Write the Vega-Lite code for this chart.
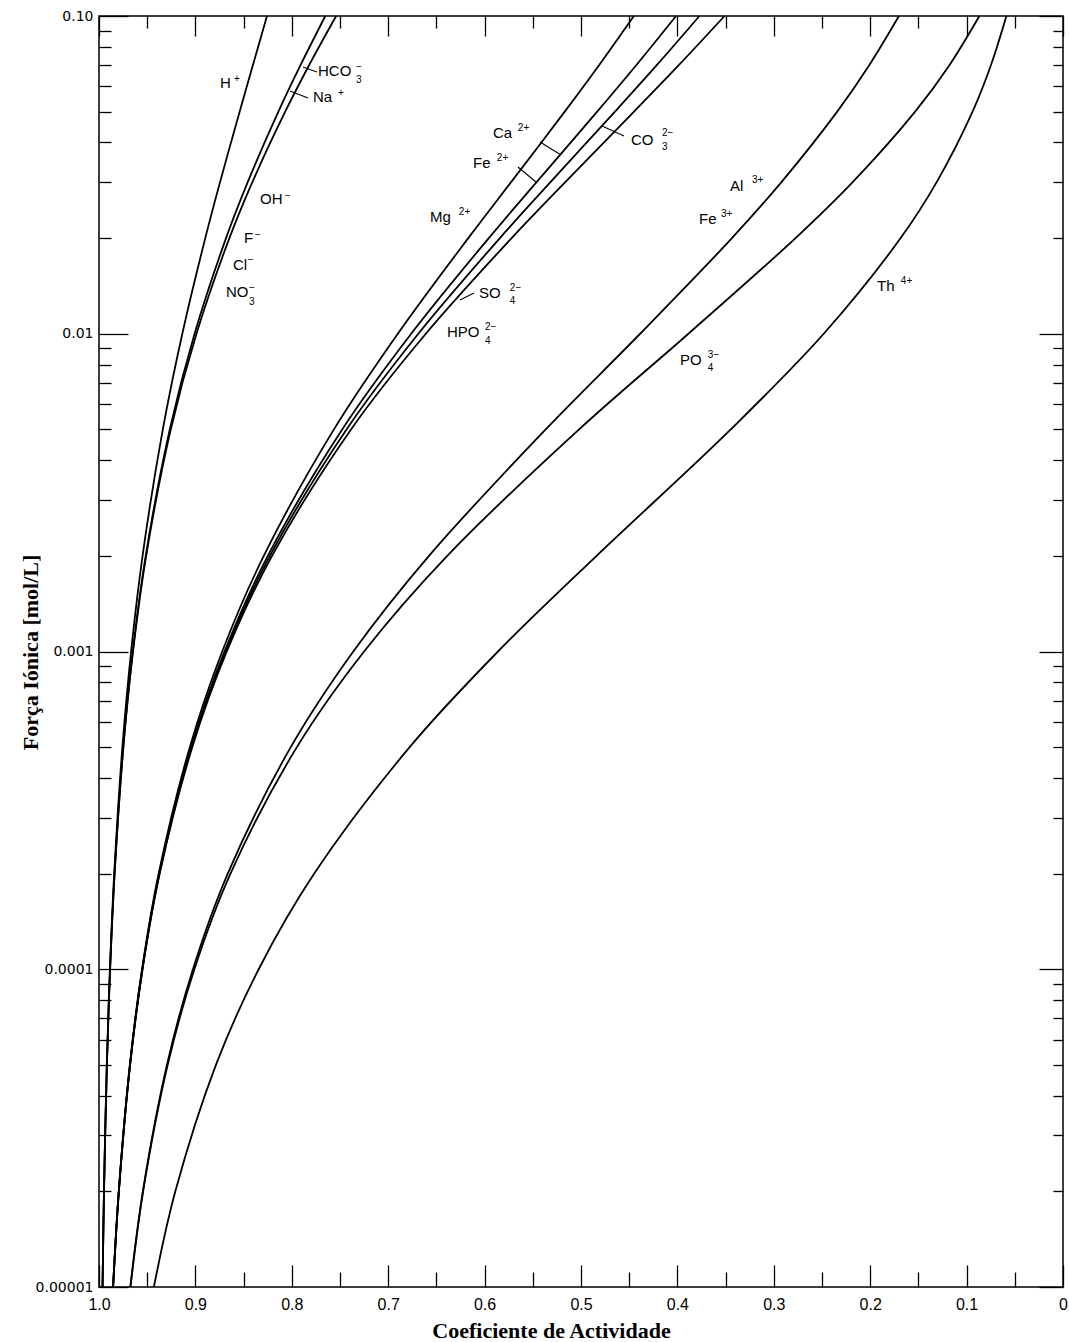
{
  "$schema": "https://vega.github.io/schema/vega-lite/v6.json",
  "width": 964,
  "height": 1271,
  "autosize": {"type": "none"},
  "padding": {"left": 99, "top": 16, "right": 6, "bottom": 55},
  "background": "white",
  "config": {
    "view": {"stroke": "black", "strokeWidth": 1.5},
    "axis": {"domain": false, "grid": false, "tickColor": "black", "tickWidth": 1.3, "labelColor": "black", "titleColor": "black", "labelFlush": false, "labelOverlap": false}
  },
  "datasets": {
    "curves": [
      {"c":"H","I":0.00001,"g":0.99634},{"c":"H","I":0.00002,"g":0.99485},{"c":"H","I":0.00005,"g":0.99192},{"c":"H","I":0.0001,"g":0.98869},{"c":"H","I":0.0002,"g":0.98423},{"c":"H","I":0.0005,"g":0.97574},{"c":"H","I":0.001,"g":0.96670},{"c":"H","I":0.002,"g":0.95480},{"c":"H","I":0.005,"g":0.93380},{"c":"H","I":0.01,"g":0.91357},{"c":"H","I":0.02,"g":0.88976},{"c":"H","I":0.03,"g":0.87444},{"c":"H","I":0.05,"g":0.85411},{"c":"H","I":0.07,"g":0.84037},{"c":"H","I":0.1,"g":0.82574},
      {"c":"Na","I":0.00001,"g":0.99632},{"c":"Na","I":0.00002,"g":0.99481},{"c":"Na","I":0.00005,"g":0.99182},{"c":"Na","I":0.0001,"g":0.98850},{"c":"Na","I":0.0002,"g":0.98385},{"c":"Na","I":0.0005,"g":0.97483},{"c":"Na","I":0.001,"g":0.96497},{"c":"Na","I":0.002,"g":0.95155},{"c":"Na","I":0.005,"g":0.92659},{"c":"Na","I":0.01,"g":0.90086},{"c":"Na","I":0.02,"g":0.86821},{"c":"Na","I":0.03,"g":0.84572},{"c":"Na","I":0.05,"g":0.81390},{"c":"Na","I":0.07,"g":0.79099},{"c":"Na","I":0.1,"g":0.76524},
      {"c":"Cl","I":0.00001,"g":0.99632},{"c":"Cl","I":0.00002,"g":0.99480},{"c":"Cl","I":0.00005,"g":0.99181},{"c":"Cl","I":0.0001,"g":0.98847},{"c":"Cl","I":0.0002,"g":0.98380},{"c":"Cl","I":0.0005,"g":0.97471},{"c":"Cl","I":0.001,"g":0.96473},{"c":"Cl","I":0.002,"g":0.95108},{"c":"Cl","I":0.005,"g":0.92552},{"c":"Cl","I":0.01,"g":0.89889},{"c":"Cl","I":0.02,"g":0.86472},{"c":"Cl","I":0.03,"g":0.84092},{"c":"Cl","I":0.05,"g":0.80686},{"c":"Cl","I":0.07,"g":0.78210},{"c":"Cl","I":0.1,"g":0.75399},
      {"c":"Mg","I":0.00001,"g":0.98542},{"c":"Mg","I":0.00002,"g":0.97951},{"c":"Mg","I":0.00005,"g":0.96801},{"c":"Mg","I":0.0001,"g":0.95539},{"c":"Mg","I":0.0002,"g":0.93813},{"c":"Mg","I":0.0005,"g":0.90581},{"c":"Mg","I":0.001,"g":0.87219},{"c":"Mg","I":0.002,"g":0.82907},{"c":"Mg","I":0.005,"g":0.75630},{"c":"Mg","I":0.01,"g":0.69004},{"c":"Mg","I":0.02,"g":0.61693},{"c":"Mg","I":0.03,"g":0.57254},{"c":"Mg","I":0.05,"g":0.51686},{"c":"Mg","I":0.07,"g":0.48129},{"c":"Mg","I":0.1,"g":0.44516},
      {"c":"Ca","I":0.00001,"g":0.98539},{"c":"Ca","I":0.00002,"g":0.97945},{"c":"Ca","I":0.00005,"g":0.96786},{"c":"Ca","I":0.0001,"g":0.95511},{"c":"Ca","I":0.0002,"g":0.93759},{"c":"Ca","I":0.0005,"g":0.90455},{"c":"Ca","I":0.001,"g":0.86986},{"c":"Ca","I":0.002,"g":0.82489},{"c":"Ca","I":0.005,"g":0.74773},{"c":"Ca","I":0.01,"g":0.67617},{"c":"Ca","I":0.02,"g":0.59566},{"c":"Ca","I":0.03,"g":0.54611},{"c":"Ca","I":0.05,"g":0.48325},{"c":"Ca","I":0.07,"g":0.44274},{"c":"Ca","I":0.1,"g":0.40139},
      {"c":"CO3","I":0.00001,"g":0.98537},{"c":"CO3","I":0.00002,"g":0.97942},{"c":"CO3","I":0.00005,"g":0.96779},{"c":"CO3","I":0.0001,"g":0.95497},{"c":"CO3","I":0.0002,"g":0.93732},{"c":"CO3","I":0.0005,"g":0.90391},{"c":"CO3","I":0.001,"g":0.86866},{"c":"CO3","I":0.002,"g":0.82272},{"c":"CO3","I":0.005,"g":0.74322},{"c":"CO3","I":0.01,"g":0.66876},{"c":"CO3","I":0.02,"g":0.58414},{"c":"CO3","I":0.03,"g":0.53168},{"c":"CO3","I":0.05,"g":0.46476},{"c":"CO3","I":0.07,"g":0.42144},{"c":"CO3","I":0.1,"g":0.37714},
      {"c":"SO4","I":0.00001,"g":0.98536},{"c":"SO4","I":0.00002,"g":0.97939},{"c":"SO4","I":0.00005,"g":0.96772},{"c":"SO4","I":0.0001,"g":0.95483},{"c":"SO4","I":0.0002,"g":0.93704},{"c":"SO4","I":0.0005,"g":0.90326},{"c":"SO4","I":0.001,"g":0.86745},{"c":"SO4","I":0.002,"g":0.82050},{"c":"SO4","I":0.005,"g":0.73856},{"c":"SO4","I":0.01,"g":0.66099},{"c":"SO4","I":0.02,"g":0.57198},{"c":"SO4","I":0.03,"g":0.51636},{"c":"SO4","I":0.05,"g":0.44500},{"c":"SO4","I":0.07,"g":0.39861},{"c":"SO4","I":0.1,"g":0.35111},
      {"c":"Al","I":0.00001,"g":0.96751},{"c":"Al","I":0.00002,"g":0.95452},{"c":"Al","I":0.00005,"g":0.92953},{"c":"Al","I":0.0001,"g":0.90256},{"c":"Al","I":0.0002,"g":0.86643},{"c":"Al","I":0.0005,"g":0.80107},{"c":"Al","I":0.001,"g":0.73622},{"c":"Al","I":0.002,"g":0.65770},{"c":"Al","I":0.005,"g":0.53666},{"c":"Al","I":0.01,"g":0.43867},{"c":"Al","I":0.02,"g":0.34344},{"c":"Al","I":0.03,"g":0.29209},{"c":"Al","I":0.05,"g":0.23424},{"c":"Al","I":0.07,"g":0.20103},{"c":"Al","I":0.1,"g":0.17020},
      {"c":"PO4","I":0.00001,"g":0.96734},{"c":"PO4","I":0.00002,"g":0.95420},{"c":"PO4","I":0.00005,"g":0.92875},{"c":"PO4","I":0.0001,"g":0.90106},{"c":"PO4","I":0.0002,"g":0.86360},{"c":"PO4","I":0.0005,"g":0.79474},{"c":"PO4","I":0.001,"g":0.72502},{"c":"PO4","I":0.002,"g":0.63875},{"c":"PO4","I":0.005,"g":0.50199},{"c":"PO4","I":0.01,"g":0.38859},{"c":"PO4","I":0.02,"g":0.27745},{"c":"PO4","I":0.03,"g":0.21819},{"c":"PO4","I":0.05,"g":0.15336},{"c":"PO4","I":0.07,"g":0.11785},{"c":"PO4","I":0.1,"g":0.08675},
      {"c":"Th","I":0.00001,"g":0.94308},{"c":"Th","I":0.00002,"g":0.92080},{"c":"Th","I":0.00005,"g":0.87869},{"c":"Th","I":0.0001,"g":0.83435},{"c":"Th","I":0.0002,"g":0.77676},{"c":"Th","I":0.0005,"g":0.67776},{"c":"Th","I":0.001,"g":0.58613},{"c":"Th","I":0.002,"g":0.48385},{"c":"Th","I":0.005,"g":0.34466},{"c":"Th","I":0.01,"g":0.24823},{"c":"Th","I":0.02,"g":0.16840},{"c":"Th","I":0.03,"g":0.13105},{"c":"Th","I":0.05,"g":0.09383},{"c":"Th","I":0.07,"g":0.07479},{"c":"Th","I":0.1,"g":0.05871}
    ],
    "labels": [
      {"t":"H","k":"b","g":0.8745,"I":0.06154},{"t":"+","k":"s","g":0.8600,"I":0.06333},
      {"t":"HCO","k":"b","g":0.7728,"I":0.06713},{"t":"3","k":"s","g":0.7335,"I":0.06290},{"t":"−","k":"s","g":0.7335,"I":0.06911},
      {"t":"Na","k":"b","g":0.7780,"I":0.05561},{"t":"+","k":"s","g":0.7522,"I":0.05725},
      {"t":"OH","k":"b","g":0.8330,"I":0.02655},{"t":"−","k":"s","g":0.8072,"I":0.02713},
      {"t":"F","k":"b","g":0.8496,"I":0.02001},{"t":"−","k":"s","g":0.8383,"I":0.02045},
      {"t":"Cl","k":"b","g":0.8610,"I":0.01646},{"t":"−","k":"s","g":0.8456,"I":0.01707},
      {"t":"NO","k":"b","g":0.8683,"I":0.01353},{"t":"3","k":"s","g":0.8445,"I":0.01259},{"t":"−","k":"s","g":0.8445,"I":0.01393},
      {"t":"Mg","k":"b","g":0.6566,"I":0.02331},{"t":"2+","k":"s","g":0.6267,"I":0.02416},
      {"t":"Ca","k":"b","g":0.5913,"I":0.04283},{"t":"2+","k":"s","g":0.5655,"I":0.04441},
      {"t":"Fe","k":"b","g":0.6120,"I":0.03447},{"t":"2+","k":"s","g":0.5873,"I":0.03573},
      {"t":"CO","k":"b","g":0.4481,"I":0.04073},{"t":"2−","k":"s","g":0.4161,"I":0.04283},{"t":"3","k":"s","g":0.4161,"I":0.03871},
      {"t":"Al","k":"b","g":0.3454,"I":0.02917},{"t":"3+","k":"s","g":0.3227,"I":0.03048},
      {"t":"Fe","k":"b","g":0.3776,"I":0.02297},{"t":"3+","k":"s","g":0.3549,"I":0.02381},
      {"t":"Th","k":"b","g":0.1929,"I":0.01414},{"t":"4+","k":"s","g":0.1682,"I":0.01466},
      {"t":"SO","k":"b","g":0.6058,"I":0.01343},{"t":"2−","k":"s","g":0.5738,"I":0.01393},{"t":"4","k":"s","g":0.5738,"I":0.01268},
      {"t":"HPO","k":"b","g":0.6390,"I":0.01013},{"t":"2−","k":"s","g":0.5997,"I":0.01050},{"t":"4","k":"s","g":0.5997,"I":0.009489},
      {"t":"PO","k":"b","g":0.3973,"I":0.008267},{"t":"3−","k":"s","g":0.3684,"I":0.008573},{"t":"4","k":"s","g":0.3684,"I":0.007803}
    ],
    "leaders": [
      {"g":0.7884,"I":0.06911,"g2":0.7739,"I2":0.06665},
      {"g":0.8019,"I":0.05808,"g2":0.7832,"I2":0.05520},
      {"g":0.5425,"I":0.04014,"g2":0.5207,"I2":0.03652},
      {"g":0.5654,"I":0.03348,"g2":0.5467,"I2":0.03003},
      {"g":0.4782,"I":0.04506,"g2":0.4554,"I2":0.04192},
      {"g":0.6255,"I":0.01277,"g2":0.6110,"I2":0.01343}
    ]
  },
  "layer": [
    {
      "data": {"name": "curves"},
      "mark": {"type": "line", "color": "black", "strokeWidth": 1.8, "interpolate": "catmull-rom"},
      "encoding": {
        "x": {"field": "g", "type": "quantitative", "scale": {"domain": [0, 1], "reverse": true, "nice": false, "zero": false},
          "axis": {"orient": "bottom", "values": [0,0.1,0.2,0.3,0.4,0.5,0.6,0.7,0.8,0.9,1], "tickSize": -22, "labelPadding": 31,
            "labelExpr": "datum.value < 0.01 ? '0' : format(datum.value, '.1f')", "labelFont": "Liberation Sans", "labelFontSize": 16,
            "title": "Coeficiente de Actividade", "titleFont": "Liberation Serif", "titleFontSize": 22, "titleFontWeight": "bold",
            "titleX": 452, "titleY": 43, "titleBaseline": "middle", "titleAlign": "center"}},
        "y": {"field": "I", "type": "quantitative", "scale": {"type": "log", "domain": [0.00001, 0.1], "nice": false},
          "axis": {"orient": "left", "values": [0.00001,0.0001,0.001,0.01,0.1], "tickSize": -29, "labelPadding": 35,
            "labelExpr": "datum.value > 0.05 ? '0.10' : datum.value > 0.005 ? '0.01' : datum.value > 0.0005 ? '0.001' : datum.value > 0.00005 ? '0.0001' : '0.00001'",
            "labelFont": "DejaVu Sans", "labelFontSize": 14,
            "title": "Força Iónica [mol/L]", "titleFont": "Liberation Serif", "titleFontSize": 22, "titleFontWeight": "bold",
            "titleX": -69, "titleY": 636, "titleAngle": -90, "titleBaseline": "middle", "titleAlign": "center"}},
        "detail": {"field": "c", "type": "nominal"},
        "order": {"field": "I", "type": "quantitative"}
      }
    },
    {
      "data": {"name": "leaders"},
      "mark": {"type": "rule", "color": "black", "strokeWidth": 1.1},
      "encoding": {
        "x": {"field": "g", "type": "quantitative",
          "axis": {"orient": "bottom", "values": [0.05,0.15,0.25,0.35,0.45,0.55,0.65,0.75,0.85,0.95], "tickSize": -15, "labels": false, "title": null}},
        "x2": {"field": "g2"},
        "y": {"field": "I", "type": "quantitative",
          "axis": {"orient": "left", "values": [0.00002,0.00003,0.00004,0.00005,0.00006,0.00007,0.00008,0.00009,0.0002,0.0003,0.0004,0.0005,0.0006,0.0007,0.0008,0.0009,0.002,0.003,0.004,0.005,0.006,0.007,0.008,0.009,0.02,0.03,0.04,0.05,0.06,0.07,0.08,0.09], "tickSize": -12, "labels": false, "title": null}},
        "y2": {"field": "I2"}
      }
    },
    {
      "data": {"name": "labels"},
      "transform": [{"filter": "datum.k == 'b'"}],
      "mark": {"type": "text", "align": "left", "baseline": "middle", "font": "Liberation Sans", "fontSize": 15, "color": "black"},
      "encoding": {
        "x": {"field": "g", "type": "quantitative",
          "axis": {"orient": "top", "values": [0,0.1,0.2,0.3,0.4,0.5,0.6,0.7,0.8,0.9,1], "tickSize": -20, "labels": false, "title": null}},
        "y": {"field": "I", "type": "quantitative",
          "axis": {"orient": "right", "values": [0.00001,0.0001,0.001,0.01,0.1], "tickSize": -24, "labels": false, "title": null}},
        "text": {"field": "t"}
      }
    },
    {
      "data": {"name": "labels"},
      "transform": [{"filter": "datum.k == 's'"}],
      "mark": {"type": "text", "align": "left", "baseline": "middle", "font": "Liberation Sans", "fontSize": 10, "color": "black"},
      "encoding": {
        "x": {"field": "g", "type": "quantitative",
          "axis": {"orient": "top", "values": [0.05,0.15,0.25,0.35,0.45,0.55,0.65,0.75,0.85,0.95], "tickSize": -12, "labels": false, "title": null}},
        "y": {"field": "I", "type": "quantitative",
          "axis": {"orient": "right", "values": [0.00002,0.00003,0.00004,0.00005,0.00006,0.00007,0.00008,0.00009,0.0002,0.0003,0.0004,0.0005,0.0006,0.0007,0.0008,0.0009,0.002,0.003,0.004,0.005,0.006,0.007,0.008,0.009,0.02,0.03,0.04,0.05,0.06,0.07,0.08,0.09], "tickSize": -10, "labels": false, "title": null}},
        "text": {"field": "t"}
      }
    }
  ],
  "resolve": {"axis": {"x": "independent", "y": "independent"}}
}
